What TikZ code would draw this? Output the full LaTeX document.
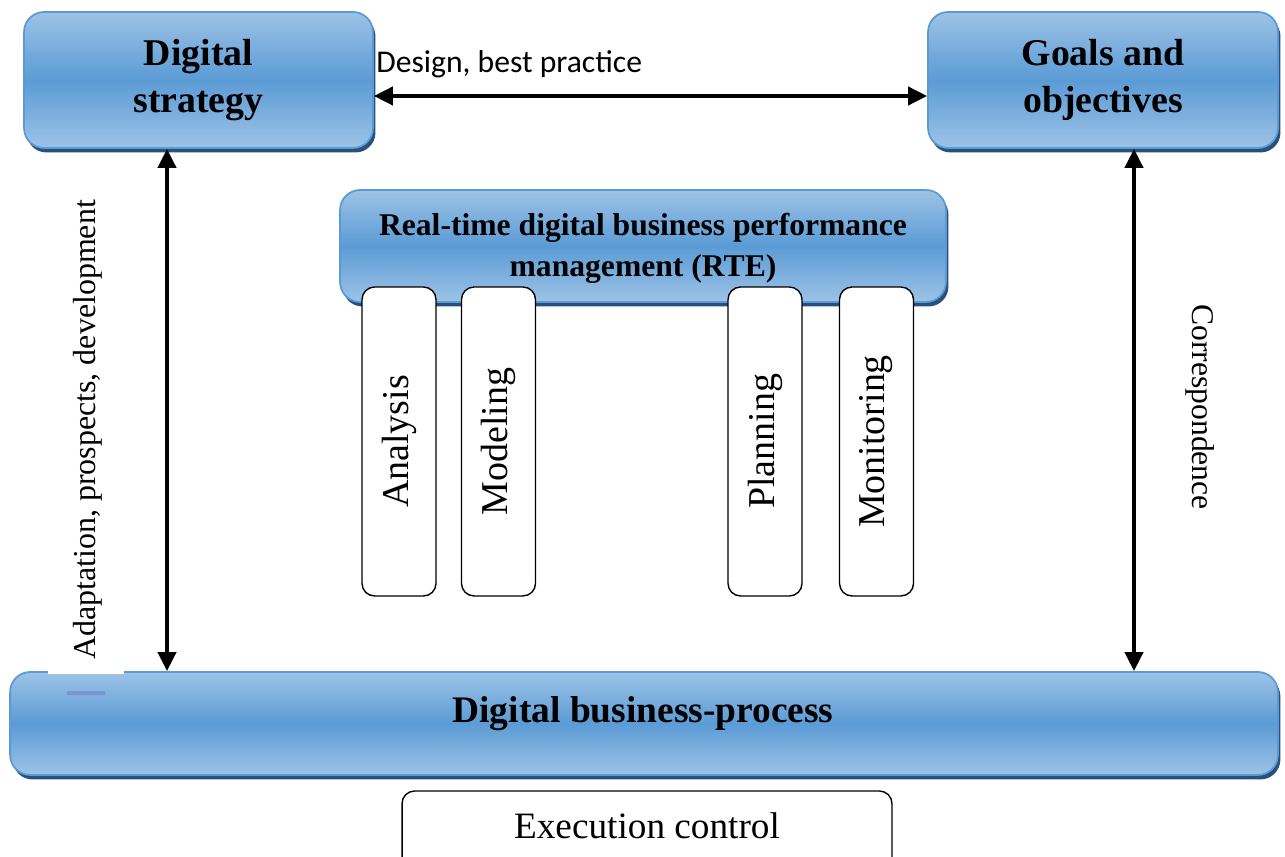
\documentclass[tikz,border=0pt]{standalone}
\usepackage{fontspec}
\setmainfont{Liberation Serif}
\newfontfamily\calibri{Carlito}
\usetikzlibrary{arrows.meta,shadows}
\definecolor{bluetop}{HTML}{9DC3E6}
\definecolor{bluemid}{HTML}{5B9BD5}
\definecolor{blueline}{HTML}{5B9BD5}
\definecolor{blueshadow}{HTML}{27507D}
\definecolor{dashblue}{HTML}{7B93D3}
\tikzset{
 bluebox/.style={rounded corners=0.4cm, draw=blueline, line width=1pt,
   top color=bluetop, bottom color=bluetop, middle color=bluemid,
   drop shadow={shadow xshift=0.05cm, shadow yshift=-0.09cm, fill=blueshadow, opacity=1},
   align=center, inner sep=0pt},
 whitebox/.style={rounded corners=0.25cm, draw=black, line width=0.8pt, fill=white, inner sep=0pt},
 dbl/.style={{Triangle[length=0.38cm,width=0.36cm]}-{Triangle[length=0.38cm,width=0.36cm]}, line width=2.2pt},
 vtext/.style={font=\fontsize{21.6}{25}\selectfont, rotate=90},
}
\begin{document}
\begin{tikzpicture}[x=0.02cm,y=-0.02cm]
\useasboundingbox (0,0) rectangle (1285,857);
% top boxes
\node[bluebox, minimum width=6.98cm, minimum height=2.72cm,
  font=\fontsize{21.5}{26.6}\selectfont\bfseries] (ds) at (198.5,80) {Digital\\strategy};
\node[bluebox, minimum width=7.0cm, minimum height=2.72cm,
  font=\fontsize{21.5}{26.6}\selectfont\bfseries] (go) at (1103,80) {Goals and\\objectives};
% RTE
\node[bluebox, minimum width=12.12cm, minimum height=2.24cm,
  font=\fontsize{18}{23.2}\selectfont\bfseries] (rte) at (643,246) {};
\node[font=\fontsize{18}{23.2}\selectfont\bfseries, align=center, inner sep=0pt] (rtet) at (643,248) {Real-time digital business performance\\management (RTE)};
% small boxes
\node[whitebox, minimum width=1.48cm, minimum height=6.18cm] (an) at (399,441.5) {};
\node[whitebox, minimum width=1.48cm, minimum height=6.18cm] (mo) at (498.5,441.5) {};
\node[whitebox, minimum width=1.48cm, minimum height=6.18cm] (pl) at (765,441.5) {};
\node[whitebox, minimum width=1.48cm, minimum height=6.18cm] (mn) at (876.5,441.5) {};
\node[vtext] (ant) at (an.center) {Analysis};
\node[vtext] (mot) at (mo.center) {Modeling};
\node[vtext] (plt) at (pl.center) {Planning};
\node[vtext] (mnt) at (mn.center) {Monitoring};
% bottom box
\node[bluebox, minimum width=25.36cm, minimum height=2.06cm] (bp) at (644,723.5) {};
\node[font=\fontsize{21.3}{25}\selectfont\bfseries, inner sep=0pt] (bpt) at (643,714) {Digital business-process};
% execution control
\node[whitebox, minimum width=9.8cm, minimum height=1.64cm] (ec) at (647,832) {};
\node[font=\fontsize{21.2}{25}\selectfont] (ect) at (647,826) {Execution control};
% arrows
\draw[dbl] ([yshift=-0.32cm]ds.east) -- ([yshift=-0.32cm]go.west);
\draw[dbl] ([xshift=-0.63cm]ds.south) -- ([xshift=-0.63cm]ds.south |- bp.north);
\draw[dbl] ([xshift=0.62cm]go.south) -- ([xshift=0.62cm]go.south |- bp.north);
% labels
\node[font=\calibri\fontsize{18}{21}\selectfont, anchor=west, inner sep=0pt] (dl) at (376,64) {Design, best practice};
\fill[white] (48,655) rectangle (124,674);
\draw[color=dashblue, line width=2pt] (67,693) -- (105,693);
\node[font=\fontsize{18.2}{21}\selectfont, rotate=90] (al) at (88,430) {Adaptation, prospects, development};
\node[font=\fontsize{18}{21}\selectfont, rotate=-90] (cl) at (1200,407) {Correspondence};
\end{tikzpicture}
\end{document}
